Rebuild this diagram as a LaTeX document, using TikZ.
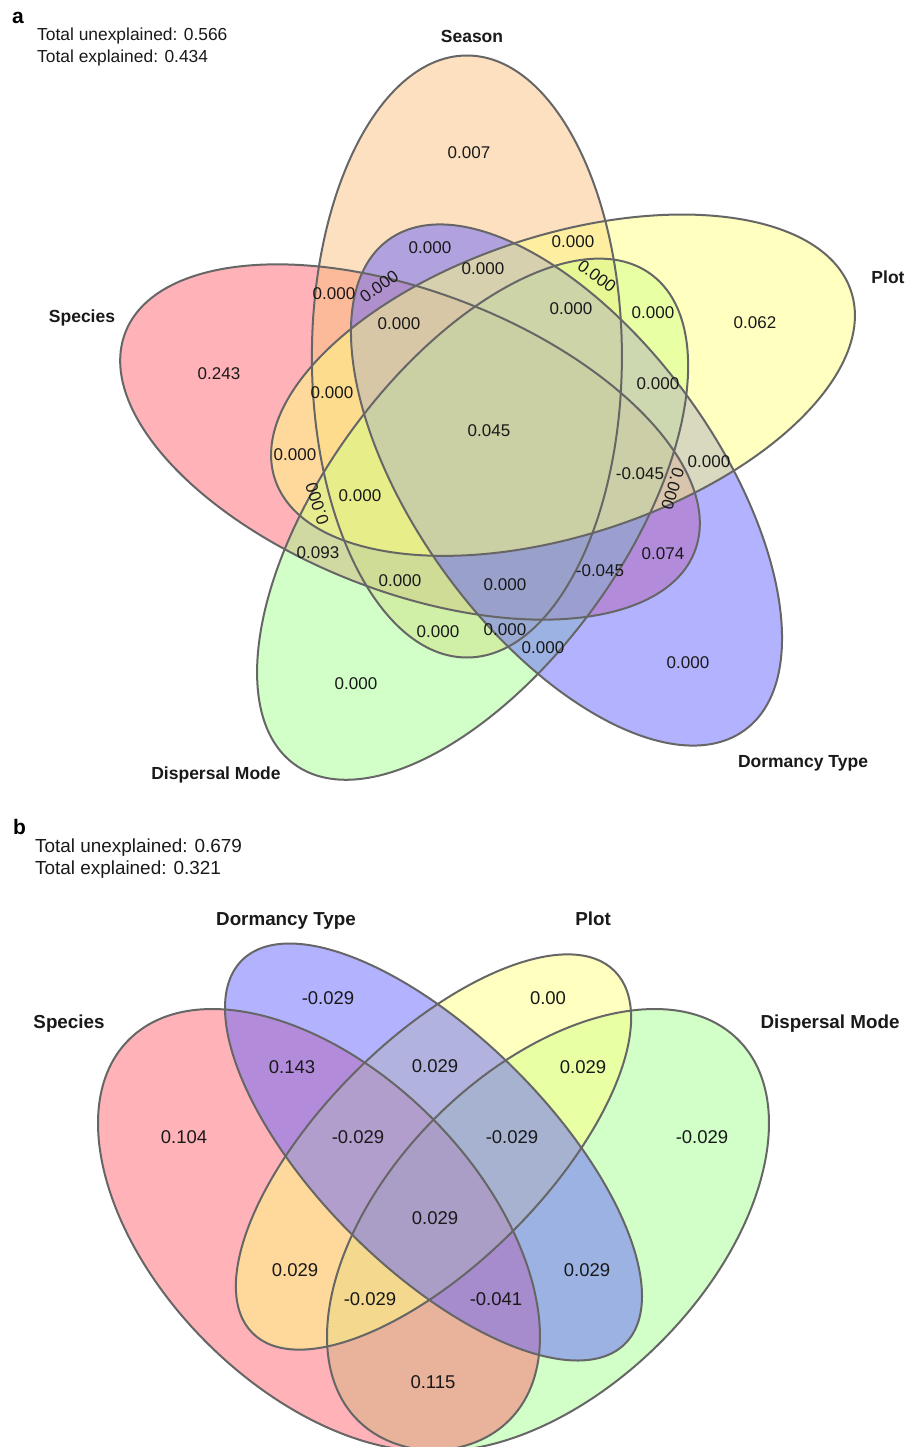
\documentclass[tikz,border=0pt]{standalone}
\usepackage{fontspec}
\setmainfont{Liberation Sans}

\definecolor{speciesred}{rgb}{1,0.4,0.44}
\definecolor{seasonorange}{rgb}{0.98,0.76,0.5}
\definecolor{plotyellow}{rgb}{1,1,0.5}
\definecolor{dispersalgreen}{rgb}{0.64,1,0.56}
\definecolor{dormancyblue}{rgb}{0.4,0.4,1}
\definecolor{rimgrey}{rgb}{0.4,0.4,0.4}

\tikzset{
  venncell/.style={fill=#1,fill opacity=0.5},
  vennrim/.style={draw=rimgrey,line width=2pt},
  cellvalue/.style={inner sep=0pt,text height=12.2pt,text depth=0pt,text=black!90,
    font=\fontsize{17}{20}\selectfont},
  bigcellvalue/.style={inner sep=0pt,text height=13.2pt,text depth=0pt,text=black!90,
    font=\fontsize{18.5}{22}\selectfont},
  setlabel/.style={inner sep=0pt,text height=12.5pt,text depth=0pt,text=black!90,
    font=\fontsize{17.5}{21}\selectfont\bfseries},
  bigsetlabel/.style={setlabel,text height=13.5pt,
    font=\fontsize{18.8}{22}\selectfont\bfseries},
  totalline/.style={anchor=base west,inner sep=0pt,text=black!90,
    font=\fontsize{17.4}{21}\selectfont},
  bigtotalline/.style={totalline,font=\fontsize{18.9}{22}\selectfont},
  panelletter/.style={anchor=base west,inner sep=0pt,
    font=\fontsize{21}{25}\selectfont\bfseries}
}

\begin{document}
\begin{tikzpicture}[x=1pt,y=-1pt]
  \useasboundingbox (0,0) rectangle (908,1447);

  % a: five sets
  \foreach \cx/\cy/\tilt/\ra/\rb/\setcol in {410/442/-21/305/150/speciesred,
    466.9/356.5/90/301/155/seasonorange, 472.6/519.2/54/303/150/dispersalgreen,
    566.5/485/-54/303/150/dormancyblue, 563/385.2/18/303/150/plotyellow}
    \fill[venncell=\setcol,shift={(\cx,\cy)},rotate=\tilt]
      (0,0) ellipse [x radius=\ra,y radius=\rb];
  \foreach \cx/\cy/\tilt/\ra/\rb in {410/442/-21/305/150, 466.9/356.5/90/301/155,
    472.6/519.2/54/303/150, 566.5/485/-54/303/150, 563/385.2/18/303/150}
    \draw[vennrim,shift={(\cx,\cy)},rotate=\tilt]
      (0,0) ellipse [x radius=\ra,y radius=\rb];

  \node[panelletter] (lettera) at (12,24) {a};
  \node[totalline] (unexpa) at (37,41) {Total unexplained: 0.566};
  \node[totalline] (expa) at (37,63) {Total explained: 0.434};

  \node[setlabel] (season) at (472,36) {Season};
  \node[setlabel] (plota) at (888,277) {Plot};
  \node[setlabel] (speciesa) at (82,316) {Species};
  \node[setlabel] (dispersala) at (216,773) {Dispersal Mode};
  \node[setlabel] (dormancya) at (803,761) {Dormancy Type};

  % cell values
  \foreach \x/\y/\val [count=\i] in {469/152/0.007, 430/247/0.000, 573/241/0.000,
    483/268/0.000, 334/293/0.000, 399/323/0.000, 571/308/0.000, 653/312/0.000,
    755/322/0.062, 219/373/0.243, 332/392/0.000, 658/383/0.000, 489/430/0.045,
    295/454/0.000, 709/461/0.000, 640/473/-0.045, 360/495/0.000, 318/552/0.093,
    663/553/0.074, 400/580/0.000, 505/584/0.000, 600/570/-0.045, 438/631/0.000,
    505/629/0.000, 543/647/0.000, 356/683/0.000, 688/662/0.000}
    \node[cellvalue] (acell\i) at (\x,\y) {\val};
  \foreach \x/\y/\tilt [count=\i] in {597/276/-37, 379/286/35, 317/504/108, 673/489/-107}
    \node[cellvalue,rotate=\tilt] (atilt\i) at (\x,\y) {0.000};

  % b: four sets
  \foreach \cx/\cy/\tilt/\ra/\rb/\setcol in {548/1230/45/269/159/dispersalgreen,
    319/1230/-45/269/159/speciesred, 433.5/1152/45/256/112/plotyellow,
    433.5/1152/-45/271/116/dormancyblue}
    \fill[venncell=\setcol,shift={(\cx,\cy)},rotate=\tilt]
      (0,0) ellipse [x radius=\ra,y radius=\rb];
  \foreach \cx/\cy/\tilt/\ra/\rb in {548/1230/45/269/159, 319/1230/-45/269/159,
    433.5/1152/45/256/112, 433.5/1152/-45/271/116}
    \draw[vennrim,shift={(\cx,\cy)},rotate=\tilt]
      (0,0) ellipse [x radius=\ra,y radius=\rb];

  \node[panelletter] (letterb) at (13,834) {b};
  \node[bigtotalline] (unexpb) at (35,852) {Total unexplained: 0.679};
  \node[bigtotalline] (expb) at (35,874) {Total explained: 0.321};

  \node[bigsetlabel] (speciesb) at (69,1022) {Species};
  \node[bigsetlabel] (dormancyb) at (286,919) {Dormancy Type};
  \node[bigsetlabel] (plotb) at (593,919) {Plot};
  \node[bigsetlabel] (dispersalb) at (830,1022) {Dispersal Mode};

  \foreach \x/\y/\val [count=\i] in {328/998/-0.029, 548/998/0.00, 292/1067/0.143,
    435/1066/0.029, 583/1067/0.029, 184/1137/0.104, 358/1137/-0.029,
    512/1137/-0.029, 702/1137/-0.029, 435/1218/0.029, 295/1270/0.029,
    587/1270/0.029, 370/1299/-0.029, 496/1299/-0.041, 433/1382/0.115}
    \node[bigcellvalue] (bcell\i) at (\x,\y) {\val};
\end{tikzpicture}
\end{document}
